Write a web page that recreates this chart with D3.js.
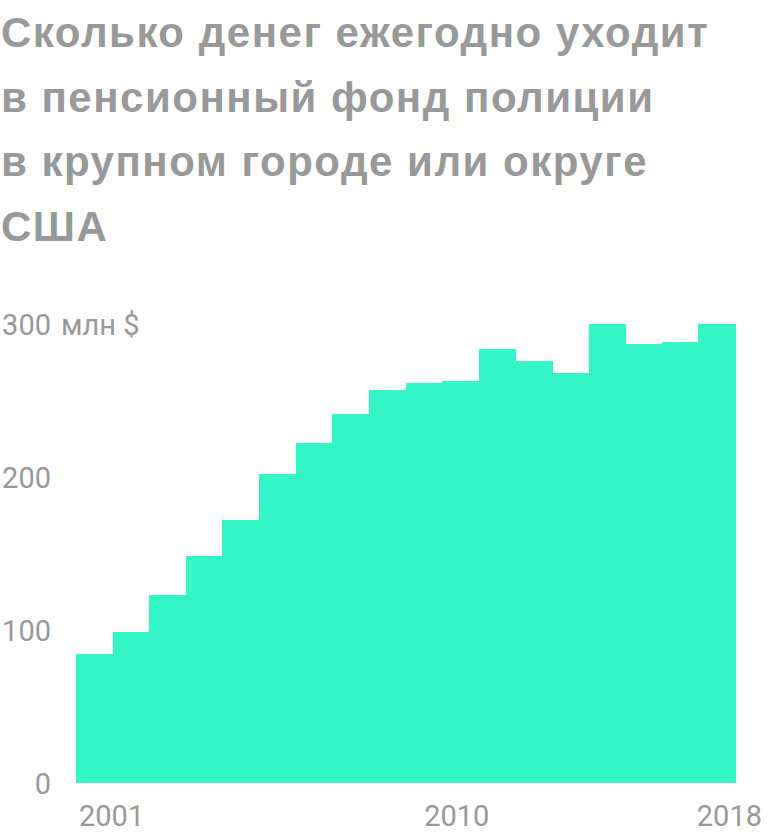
<!DOCTYPE html>
<html>
<head>
<meta charset="utf-8">
<title>Пенсионный фонд полиции</title>
<script src="https://d3js.org/d3.v7.min.js"></script>
<style>
  body { margin: 0; background: #fff; }
  svg { display: block; }
</style>
</head>
<body>
<svg id="chart"></svg>
<script>
// data, millions of dollars per year
const years = [2001, 2002, 2003, 2004, 2005, 2006, 2007, 2008, 2009,
               2010, 2011, 2012, 2013, 2014, 2015, 2016, 2017, 2018];
const values = [84.5, 98.4, 123, 148.5, 172, 202, 222.3, 241.2, 256.9,
                261.5, 263, 283.5, 275.6, 268, 300, 286.7, 288.3, 300];
const yTicks = [0, 100, 200, 300];
const xTicks = [2001, 2010, 2018];
const titleLines = [
  'Сколько денег ежегодно уходит',
  'в пенсионный фонд полиции',
  'в крупном городе или округе',
  'США'
];

const W = 768, H = 832;
const grey = '#999';
const barColor = '#34f5c6';

const svg = d3.select('#chart').attr('width', W).attr('height', H);

// title
svg.append('g').selectAll('text')
  .data(titleLines)
  .join('text')
  .attr('x', 1)
  .attr('y', (d, i) => 47 + i * 64.5)
  .style('font-family', '"Liberation Sans", Arial, sans-serif')
  .style('font-weight', 'bold')
  .style('font-size', '42px')
  .style('letter-spacing', '1.5px')
  .style('fill', grey)
  .text(d => d);

const x = d3.scaleBand().domain(years).range([76, 735]).padding(0);
const y = d3.scaleLinear().domain([0, 300]).range([783, 324]);

// bars
svg.append('g').selectAll('rect')
  .data(years)
  .join('rect')
  .attr('x', d => x(d))
  .attr('y', (d, i) => y(values[i]))
  .attr('width', x.bandwidth() + 1)
  .attr('height', (d, i) => y(0) - y(values[i]))
  .attr('shape-rendering', 'crispEdges')
  .style('fill', barColor);

const labelFont = 'Roboto, "Noto Sans", sans-serif';

// y labels
const yAxis = svg.append('g');
yAxis.selectAll('text')
  .data(yTicks)
  .join('text')
  .attr('x', 51)
  .attr('y', d => y(d) + 10.5)
  .attr('text-anchor', 'end')
  .style('font-family', labelFont)
  .style('font-size', '29px')
  .style('fill', grey)
  .text(d => d);

yAxis.append('text')
  .attr('x', 61)
  .attr('y', y(300) + 10.5)
  .style('font-family', labelFont)
  .style('font-size', '29px')
  .style('fill', grey)
  .text('млн $');

// x labels
const bw = x.bandwidth();
const xPos = [x(2001) + 3, x(2010) + bw * 1.4, x(2018) + bw + 27];
const xAnchor = ['start', 'middle', 'end'];
svg.append('g').selectAll('text')
  .data(xTicks)
  .join('text')
  .attr('x', (d, i) => xPos[i])
  .attr('y', 825.5)
  .attr('text-anchor', (d, i) => xAnchor[i])
  .style('font-family', labelFont)
  .style('font-size', '29px')
  .style('fill', grey)
  .text(d => d);
</script>
</body>
</html>
